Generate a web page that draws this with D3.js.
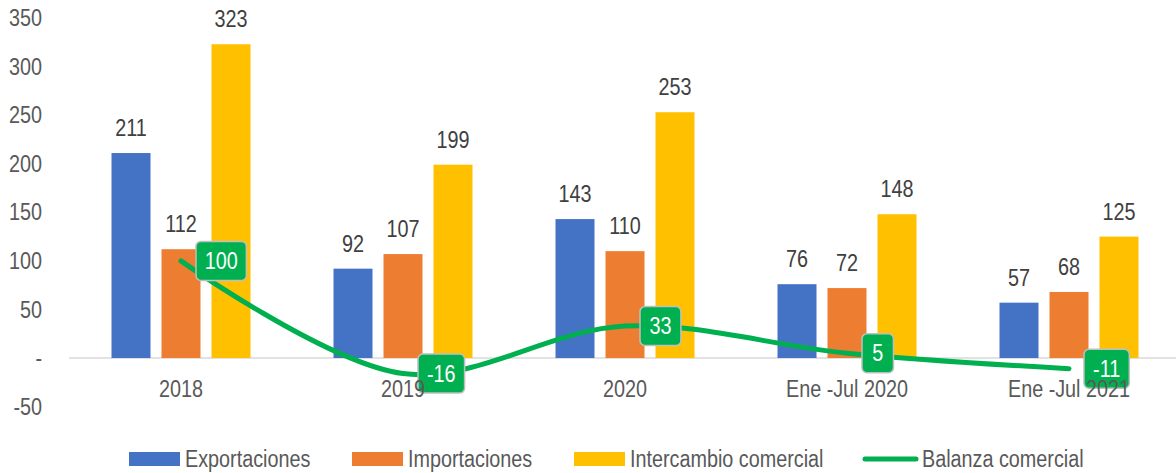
<!DOCTYPE html>
<meta charset="utf-8">
<head>
<style>
body {margin:0; background:#fff;}
text {font-family: "Liberation Sans", Arial, sans-serif;}
</style>
</head>
<body>
<div id="chart"></div>
<script src="https://cdnjs.cloudflare.com/ajax/libs/d3/7.8.5/d3.min.js"></script>
<script>
// data
const categories = ["2018", "2019", "2020", "Ene -Jul 2020", "Ene -Jul 2021"];
const exportaciones = [211, 92, 143, 76, 57];
const importaciones = [112, 107, 110, 72, 68];
const intercambio = [323, 199, 253, 148, 125];
const balanza = [100, -16, 33, 5, -11];
const yTicks = [-50, 0, 50, 100, 150, 200, 250, 300, 350];

const seriesNames = ["Exportaciones", "Importaciones", "Intercambio comercial"];
const seriesValues = [exportaciones, importaciones, intercambio];
const colors = ["#4472C4", "#ED7D31", "#FFC000"];
const green = "#00B050";

const width = 1176, height = 473;
const squeeze = 0.86;

// no narrow font installed -> squeeze glyphs horizontally
function narrow(sel) {
  sel.each(function() {
    const w = this.getComputedTextLength();
    d3.select(this).attr('textLength', w * squeeze).attr('lengthAdjust', 'spacingAndGlyphs');
  });
}

const svg = d3.select('#chart').append('svg')
  .attr('width', width)
  .attr('height', height);

const y = d3.scaleLinear().domain([-50, 350]).range([406.6, 18]);
const x = d3.scaleBand().domain(categories).range([70, 1180]);
const x1 = d3.scaleBand().domain(seriesNames)
  .range([x.bandwidth() / 2 - 75, x.bandwidth() / 2 + 75])
  .paddingInner(0.22).paddingOuter(0.11);

// y tick labels (zero shown as "-")
svg.append('g').selectAll('text')
  .data(yTicks).enter().append('text')
  .attr('x', 42)
  .attr('y', d => y(d))
  .attr('dy', '0.35em')
  .attr('text-anchor', 'end')
  .attr('fill', '#595959')
  .style('font-size', '23px')
  .text(d => d === 0 ? '-' : d)
  .call(narrow);

// zero baseline
svg.append('line')
  .attr('x1', 69).attr('x2', width)
  .attr('y1', y(0)).attr('y2', y(0))
  .attr('stroke', '#d9d9d9').attr('stroke-width', 1.5);

// bars + value labels
seriesNames.forEach((name, si) => {
  const g = svg.append('g');
  g.selectAll('rect')
    .data(seriesValues[si]).enter().append('rect')
    .attr('x', (d, i) => x(categories[i]) + x1(name))
    .attr('y', d => y(d))
    .attr('width', x1.bandwidth())
    .attr('height', d => y(0) - y(d))
    .attr('fill', colors[si]);
  g.selectAll('text')
    .data(seriesValues[si]).enter().append('text')
    .attr('x', (d, i) => x(categories[i]) + x1(name) + x1.bandwidth() / 2)
    .attr('y', d => y(d) - 17)
    .attr('text-anchor', 'middle')
    .attr('fill', '#404040')
    .style('font-size', '23px')
    .text(d => d)
    .call(narrow);
});

// balanza line (smoothed)
const cx = (d, i) => x(categories[i]) + x.bandwidth() / 2;
const line = d3.line()
  .x(cx)
  .y(d => y(d))
  .curve(d3.curveCatmullRom.alpha(0.5));
svg.append('path')
  .datum(balanza)
  .attr('d', line)
  .attr('fill', 'none')
  .attr('stroke', green)
  .attr('stroke-width', 5)
  .attr('stroke-linecap', 'round');

// balanza labels
const lab = svg.append('g').selectAll('g')
  .data(balanza).enter().append('g')
  .attr('transform', (d, i) => `translate(${cx(d, i) + 15},${y(d)})`);
lab.append('rect')
  .attr('rx', 5).attr('ry', 5)
  .attr('fill', green)
  .attr('stroke', '#bfbfbf')
  .attr('stroke-width', 1.5);
lab.append('text')
  .attr('fill', '#fff')
  .attr('dy', '0.35em')
  .attr('text-anchor', 'middle')
  .style('font-size', '23px')
  .text(d => d)
  .call(narrow);
lab.each(function() {
  const t = d3.select(this).select('text');
  const w = t.node().getComputedTextLength() * squeeze + 22;
  t.attr('x', w / 2);
  d3.select(this).select('rect')
    .attr('x', 0).attr('y', -19.5)
    .attr('width', w).attr('height', 39);
});

// category labels
svg.append('g').selectAll('text')
  .data(categories).enter().append('text')
  .attr('x', d => x(d) + x.bandwidth() / 2)
  .attr('y', 397)
  .attr('text-anchor', 'middle')
  .attr('fill', '#595959')
  .style('font-size', '23px')
  .text(d => d)
  .call(narrow);

// legend
const legendX = [129, 352, 574, 863];
const leg = svg.append('g');
seriesNames.forEach((name, i) => {
  leg.append('rect')
    .attr('x', legendX[i]).attr('y', 452)
    .attr('width', 51).attr('height', 14)
    .attr('fill', colors[i]);
  leg.append('text')
    .attr('x', legendX[i] + 56).attr('y', 467)
    .attr('fill', '#595959')
    .style('font-size', '23px')
    .text(name)
    .call(narrow);
});
leg.append('line')
  .attr('x1', legendX[3] + 2).attr('x2', legendX[3] + 53)
  .attr('y1', 459).attr('y2', 459)
  .attr('stroke', green).attr('stroke-width', 5)
  .attr('stroke-linecap', 'round');
leg.append('text')
  .attr('x', legendX[3] + 59).attr('y', 467)
  .attr('fill', '#595959')
  .style('font-size', '23px')
  .text('Balanza comercial')
  .call(narrow);
</script>
</body>
